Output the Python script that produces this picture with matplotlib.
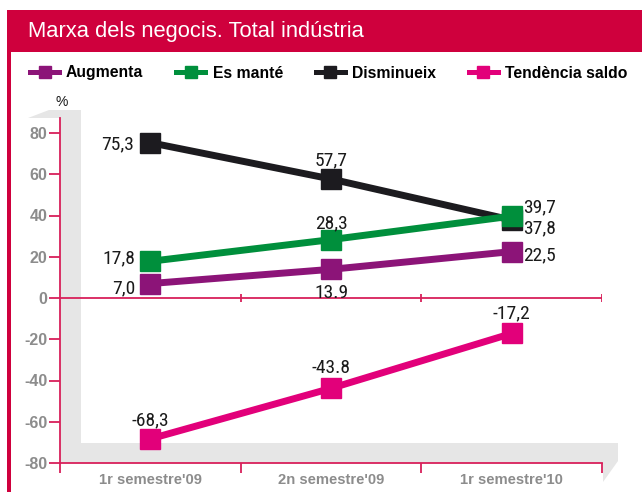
import matplotlib
matplotlib.use("Agg")
import matplotlib.pyplot as plt
from matplotlib import font_manager
from matplotlib.patches import Polygon, Rectangle
from matplotlib.lines import Line2D

# data
categories = ["1r semestre'09", "2n semestre'09", "1r semestre'10"]
augmenta = [7.0, 13.9, 22.5]
es_mante = [17.8, 28.3, 39.7]
disminueix = [75.3, 57.7, 37.8]
saldo = [-68.3, -43.8, -17.2]

augmenta_txt = ["7,0", "13.9", "22,5"]
es_mante_txt = ["17,8", "28,3", "39,7"]
disminueix_txt = ["75,3", "57,7", "37,8"]
saldo_txt = ["-68,3", "-43.8", "-17,2"]

yticks = [-80, -60, -40, -20, 0, 20, 40, 60, 80]

W, H = 642, 492
C_PURPLE = "#8C1478"
C_GREEN = "#008F3C"
C_BLACK = "#1C1B1F"
C_PINK = "#E2007A"
C_RED = "#CF003D"
C_AXIS = "#D8205A"
C_GRAY = "#E6E6E6"
C_TICK = "#8C8C8C"
LABEL_SIZE = 14

installed = {f.name for f in font_manager.fontManager.ttflist}
SANS = "Liberation Sans" if "Liberation Sans" in installed else "DejaVu Sans"
plt.rcParams["font.family"] = [SANS, "DejaVu Sans"]

# look for a condensed regular face for the value labels
narrow_prop = None
for name in ("Liberation Sans Narrow", "Roboto Condensed", "Open Sans Condensed"):
    if name in installed:
        narrow_prop = font_manager.FontProperties(family=name, size=LABEL_SIZE)
        break
if narrow_prop is None:
    cands = [f for f in font_manager.fontManager.ttflist
             if f.stretch in ("condensed", "semi-condensed", "extra-condensed")
             and f.weight in (400, "normal", "regular") and f.style == "normal"]
    cands.sort(key=lambda f: ("Noto Sans" != f.name, f.stretch != "condensed"))
    if cands:
        narrow_prop = font_manager.FontProperties(fname=cands[0].fname, size=LABEL_SIZE)
    else:
        narrow_prop = font_manager.FontProperties(family=SANS, size=11.5)


def px(x, y):
    # pixel position (from top-left) -> figure fraction
    return (x / W, 1 - y / H)


fig = plt.figure(figsize=(W / 100, H / 100), dpi=100)

# frame: title bar and left border
fig.add_artist(Rectangle(px(7, 52), (W - 7) / W, 42 / H, transform=fig.transFigure,
                         facecolor=C_RED, edgecolor="none", zorder=-2))
fig.add_artist(Rectangle(px(7, H), 4 / W, (H - 10) / H, transform=fig.transFigure,
                         facecolor=C_RED, edgecolor="none", zorder=-2))
fig.text(*px(28, 32), "Marxa dels negocis. Total indústria", color="white",
         fontsize=15.8, va="center", ha="left")

# grey 3d back wall and floor
wall = [px(28, 118), px(60, 118), px(60, 443), px(81, 443), px(81, 110), px(49, 110)]
floor = [px(60, 443), px(618, 443), px(618, 461), px(603, 482), px(603, 463), px(60, 463)]
for pts in (wall, floor):
    fig.add_artist(Polygon(pts, closed=True, transform=fig.transFigure,
                           facecolor=C_GRAY, edgecolor="none", zorder=-1))

ax = fig.add_axes([60 / W, 1 - 463 / H, (602 - 60) / W, (463 - 118) / H])
ax.set_facecolor("none")
x = list(range(len(categories)))
ax.set_xlim(-0.5, 2.5)
ax.set_ylim(-80, 80 + 15 / 2.0625)

for s in ("top", "right"):
    ax.spines[s].set_visible(False)
for s in ("left", "bottom"):
    ax.spines[s].set_color(C_AXIS)
    ax.spines[s].set_linewidth(1.3)

ax.set_yticks(yticks)
ax.set_yticklabels([str(v) for v in yticks])
ax.tick_params(axis="y", direction="out", length=8, width=1.3, color=C_AXIS,
               labelcolor=C_TICK, labelsize=11.5, pad=1)
for t in ax.get_yticklabels():
    t.set_fontweight("bold")

bounds = [-0.5, 0.5, 1.5, 2.5]
ax.set_xticks(bounds)
ax.set_xticklabels([])
ax.tick_params(axis="x", which="major", direction="out", length=7, width=1.3, color=C_AXIS)
ax.set_xticks(x, minor=True)
ax.set_xticklabels(categories, minor=True)
ax.tick_params(axis="x", which="minor", length=0, labelcolor=C_TICK, labelsize=10.6, pad=7)
for t in ax.get_xticklabels(minor=True):
    t.set_fontweight("bold")

ax.axhline(0, color=C_AXIS, lw=1.3, zorder=1)
ax.vlines(bounds[1:], -2, 2, color=C_AXIS, lw=1.3, zorder=1)

line_kw = dict(lw=5, marker="s", markersize=13.7, solid_capstyle="butt", zorder=3)
ax.plot(x, augmenta, color=C_PURPLE, **line_kw)
ax.plot(x, disminueix, color=C_BLACK, **line_kw)
ax.plot(x, es_mante, color=C_GREEN, **line_kw)
ax.plot(x, saldo, color=C_PINK, **line_kw)

# value labels: (series, texts, [(dx, dy, ha) in points])
label_pos = [
    (augmenta, augmenta_txt, [(-11, -6.8, "right"), (0, -20.5, "center"), (8, -6.5, "left")]),
    (es_mante, es_mante_txt, [(-11, -1.8, "right"), (0, 8, "center"), (8, 2.6, "left")]),
    (disminueix, disminueix_txt, [(-11.5, -4.6, "right"), (0, 9.9, "center"), (8, -9.7, "left")]),
    (saldo, saldo_txt, [(0, 10, "center"), (0, 10.8, "center"), (0, 10.8, "center")]),
]
for vals, txts, offs in label_pos:
    for xi, v, t, (dx, dy, ha) in zip(x, vals, txts, offs):
        ax.annotate(t, (xi, v), xytext=(dx, dy), textcoords="offset points",
                    ha=ha, va="baseline", fontproperties=narrow_prop,
                    color="#1a1a1a", zorder=5)

fig.text(*px(62, 102), "%", fontsize=10, ha="center", va="center", color="#1a1a1a")

handles = [
    Line2D([], [], color=C_PURPLE, lw=3.6, marker="s", markersize=9),
    Line2D([], [], color=C_GREEN, lw=3.6, marker="s", markersize=9),
    Line2D([], [], color=C_BLACK, lw=3.6, marker="s", markersize=9),
    Line2D([], [], color=C_PINK, lw=3.6, marker="s", markersize=9),
]
fig.legend(handles, ["Augmenta", "Es manté", "Disminueix", "Tendència saldo"],
           loc="center left", bbox_to_anchor=px(30, 73), ncol=4, frameon=False,
           borderpad=0, borderaxespad=0, handlelength=1.85, handletextpad=0.45,
           columnspacing=2.1, prop=dict(family=SANS, weight="bold", size=11.3))

fig.savefig("out.png", dpi=100)
